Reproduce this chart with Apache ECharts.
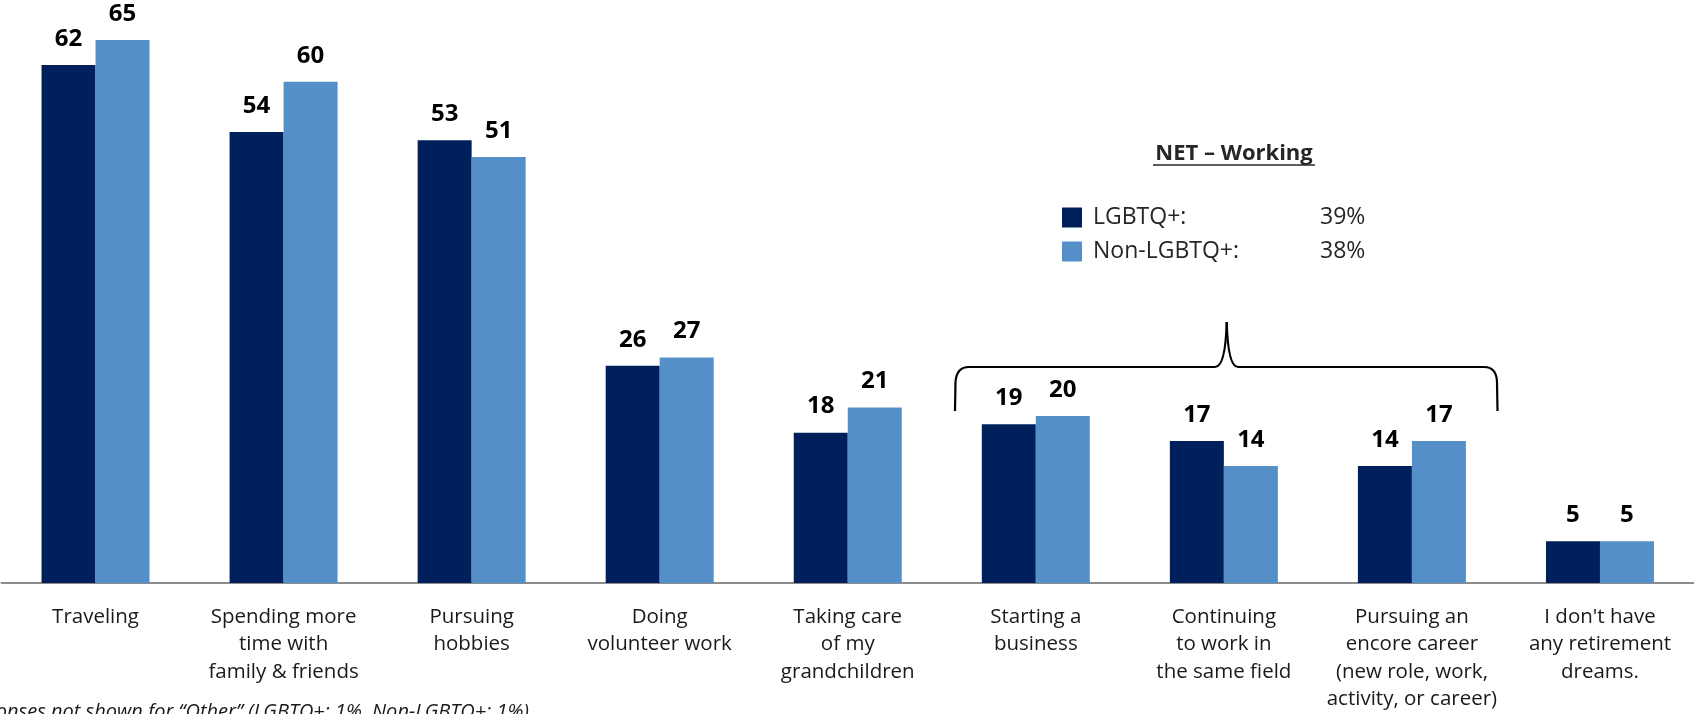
<!DOCTYPE html>
<html>
<head>
<meta charset="utf-8">
<script src="https://cdn.jsdelivr.net/npm/echarts@6/dist/echarts.min.js"></script>
<style>
html, body { margin: 0; padding: 0; background: #fff; }
#main { width: 1694px; height: 714px; }
</style>
</head>
<body>
<div id="main"></div>
<script>
// categories + values
var categories = [
    'Traveling',
    'Spending more\ntime with\nfamily & friends',
    'Pursuing\nhobbies',
    'Doing\nvolunteer work',
    'Taking care\nof my\ngrandchildren',
    'Starting a\nbusiness',
    'Continuing\nto work in\nthe same field',
    'Pursuing an\nencore career\n(new role, work,\nactivity, or career)',
    "I don't have\nany retirement\ndreams."
];
var lgbtqValues = [62, 54, 53, 26, 18, 19, 17, 14, 5];
var nonLgbtqValues = [65, 60, 51, 27, 21, 20, 14, 17, 5];
var seriesNames = ['LGBTQ+:', 'Non-LGBTQ+:'];
var netWorking = [39, 38];

var font = 'Open Sans';
var myChart = echarts.init(document.getElementById('main'));

var valueLabel = {
    show: true,
    position: 'top',
    distance: 14,
    fontFamily: font,
    fontSize: 24,
    fontWeight: 'bold',
    color: '#000'
};

// brace pieces
var braceStyle = { stroke: '#000', lineWidth: 2.2, fill: null };
function seg(x1, y1, x2, y2) {
    return { type: 'line', shape: { x1: x1, y1: y1, x2: x2, y2: y2 }, style: braceStyle };
}
function curve(x1, y1, cx, cy, x2, y2) {
    return { type: 'bezierCurve', shape: { x1: x1, y1: y1, cpx1: cx, cpy1: cy, x2: x2, y2: y2 }, style: braceStyle };
}

var option = {
    animation: false,
    textStyle: { fontFamily: font },
    grid: {
        left: 1.5,
        width: 1695,
        top: 40,
        bottom: 131
    },
    legend: {
        orient: 'vertical',
        left: 1062,
        top: 206,
        padding: 0,
        itemWidth: 20,
        itemHeight: 20,
        itemGap: 11,
        icon: 'rect',
        selectedMode: false,
        data: seriesNames,
        formatter: function (name) {
            var i = seriesNames.indexOf(name);
            return '{n|' + name + '}{v|' + netWorking[i] + '%}';
        },
        textStyle: {
            rich: {
                n: { width: 227, fontSize: 23, lineHeight: 20, color: '#262626', fontFamily: font, padding: [0, 0, 0, 6] },
                v: { fontSize: 23, lineHeight: 20, color: '#262626', fontFamily: font }
            }
        }
    },
    xAxis: {
        type: 'category',
        data: categories,
        axisTick: { show: false },
        axisLine: {
            lineStyle: { color: '#8c8c8c', width: 2 }
        },
        axisLabel: {
            interval: 0,
            margin: 20,
            fontSize: 20.5,
            lineHeight: 27.5,
            color: '#1a1a1a',
            fontFamily: font
        }
    },
    yAxis: {
        type: 'value',
        show: false,
        min: 0,
        max: 65
    },
    series: [
        {
            name: seriesNames[0],
            type: 'bar',
            barWidth: 54,
            barGap: '0%',
            data: lgbtqValues,
            itemStyle: { color: '#00205C' },
            label: valueLabel
        },
        {
            name: seriesNames[1],
            type: 'bar',
            barWidth: 54,
            barGap: '0%',
            data: nonLgbtqValues,
            itemStyle: { color: '#558FC8' },
            label: valueLabel
        }
    ],
    graphic: [
        // NET – Working heading (underlined)
        {
            type: 'text',
            x: 1234,
            y: 154,
            style: {
                text: 'NET \u2013 Working',
                align: 'center',
                verticalAlign: 'middle',
                font: 'bold 22px "Open Sans"',
                fill: '#262626'
            }
        },
        {
            type: 'line',
            shape: { x1: 1153, y1: 165, x2: 1315, y2: 165 },
            style: { stroke: '#262626', lineWidth: 1.5 }
        },
        // brace over the working options
        seg(955, 411, 955.5, 382),
        curve(955.5, 382, 956.5, 367, 969, 367),
        seg(969, 367, 1215, 367),
        curve(1215, 367, 1225.5, 367, 1226.7, 322),
        curve(1226.7, 322, 1228, 367, 1238, 367),
        seg(1238, 367, 1484, 367),
        curve(1484, 367, 1496.5, 367, 1497, 382),
        seg(1497, 382, 1497.5, 411),
        // footnote, cut off at the left edge like the source
        {
            type: 'text',
            x: 529,
            y: 702,
            style: {
                text: 'Responses not shown for \u201cOther\u201d (LGBTQ+: 1%, Non-LGBTQ+: 1%)',
                align: 'right',
                verticalAlign: 'top',
                font: 'italic 20px "Open Sans"',
                fill: '#1a1a1a'
            }
        }
    ]
};

myChart.setOption(option);
</script>
</body>
</html>
